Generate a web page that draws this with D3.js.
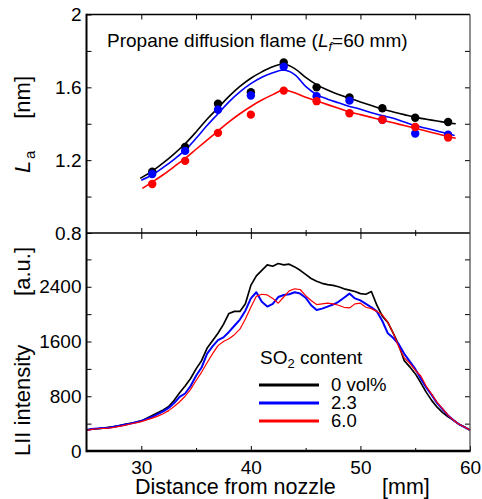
<!DOCTYPE html>
<html>
<head>
<meta charset="utf-8">
<script src="https://cdn.jsdelivr.net/npm/d3@7"></script>
<style>
  body { margin: 0; background: #fff; }
  svg { font-family: "Liberation Sans", Arial, sans-serif; }
</style>
</head>
<body>
<div id="chart"></div>
<script>
// ---- data ----
// top panel: measured La points
const ptX = [31, 34, 37, 40, 43, 46, 49, 52, 55, 58];
const la0 = [1.136, 1.273, 1.51, 1.573, 1.737, 1.60, 1.545, 1.485, 1.433, 1.41];
const la23 = [1.124, 1.251, 1.477, 1.555, 1.713, 1.551, 1.527, 1.422, 1.346, 1.34];
const la60 = [1.069, 1.196, 1.35, 1.45, 1.582, 1.524, 1.458, 1.422, 1.382, 1.324];

// top panel: fitted curves (x, La)
const fit0 = [[29.9,1.10],[31,1.14],[32,1.185],[33,1.235],[34,1.29],[35,1.355],[36,1.425],[37,1.487],[38,1.55],[39,1.605],[40,1.65],[41,1.685],[42,1.713],[43,1.728],[44,1.703],[45,1.655],[46,1.615],[47,1.585],[48,1.56],[49,1.54],[50,1.52],[51,1.50],[52,1.48],[53,1.465],[54,1.45],[55,1.435],[56,1.425],[57,1.415],[58,1.405],[58.7,1.40]];
const fit23 = [[30,1.09],[31,1.12],[32,1.16],[33,1.205],[34,1.255],[35,1.32],[36,1.39],[37,1.455],[38,1.52],[39,1.575],[40,1.62],[41,1.655],[42,1.68],[43,1.695],[44,1.67],[45,1.605],[46,1.56],[47,1.535],[48,1.515],[49,1.495],[50,1.48],[51,1.46],[52,1.445],[53,1.43],[54,1.41],[55,1.39],[56,1.375],[57,1.36],[58,1.345],[58.6,1.335]];
const fit60 = [[30.1,1.045],[31,1.08],[32,1.12],[33,1.165],[34,1.21],[35,1.26],[36,1.31],[37,1.36],[38,1.41],[39,1.455],[40,1.495],[41,1.53],[42,1.56],[43,1.585],[44,1.57],[45,1.545],[46,1.525],[47,1.505],[48,1.485],[49,1.465],[50,1.45],[51,1.435],[52,1.42],[53,1.405],[54,1.39],[55,1.375],[56,1.36],[57,1.345],[58,1.33],[58.7,1.32]];

// bottom panel: LII profiles, every 0.5 mm from 25 to 60
const liiX = d3.range(25, 60.01, 0.5);
const lii0 = [310,320,325,335,345,355,370,390,405,420,440,480,520,560,600,650,740,850,950,1060,1200,1320,1500,1610,1720,1850,2010,2040,2040,2150,2420,2560,2640,2720,2700,2740,2720,2730,2690,2640,2580,2520,2480,2450,2430,2420,2400,2370,2350,2330,2300,2290,2330,2130,1970,1880,1720,1550,1320,1230,1130,1000,860,740,640,560,500,450,390,350,305];
const lii23 = [305,320,330,335,340,355,370,385,400,420,440,470,500,540,580,630,700,790,840,950,1100,1220,1420,1530,1620,1660,1740,1830,1920,2050,2230,2320,2180,2110,2150,2250,2280,2290,2320,2300,2240,2130,2060,2080,2110,2140,2180,2240,2300,2230,2200,2150,2100,2040,1900,1720,1650,1560,1420,1310,1200,1060,930,820,700,610,520,450,390,350,305];
const lii60 = [300,315,325,330,335,345,360,375,395,410,430,455,480,510,545,590,650,720,800,900,1030,1150,1290,1420,1540,1600,1640,1700,1780,1930,2100,2260,2290,2280,2230,2160,2250,2340,2370,2360,2270,2200,2140,2150,2160,2150,2130,2100,2090,2150,2160,2100,2080,2040,1990,1880,1720,1520,1360,1280,1180,1100,950,830,710,620,520,450,390,350,305];

const laTicks = [0.8, 1.0, 1.2, 1.4, 1.6, 1.8, 2.0];
const laLabels = [0.8, 1.2, 1.6, 2.0];
const liiTicks = [0, 400, 800, 1200, 1600, 2000, 2400, 2800];
const liiLabels = [0, 800, 1600, 2400];
const xMajor = [30, 40, 50];
const xMinor = [35, 45, 55];
const xLabels = [30, 40, 50, 60];
const legendNames = ["0 vol%", "2.3", "6.0"];
const colors = ["#000000", "#0000ff", "#ff0000"];

// ---- layout ----
const W = 482, H = 499;
const svg = d3.select('#chart').append('svg')
    .attr('width', W).attr('height', H);

const x = d3.scaleLinear().domain([25, 60]).range([86.5, 470]);
const yLa = d3.scaleLinear().domain([0.8, 2]).range([233, 14.5]);
const yLii = d3.scaleLinear().domain([0, 3200]).range([451, 232]);

// tick helper: draws ticks (and optional labels) without the domain line
function ticks(axisFn, scale, values, size, tx, ty, fmt, pad) {
  const a = axisFn(scale).tickValues(values).tickSize(size).tickSizeOuter(0)
      .tickPadding(pad || 5).tickFormat(fmt || (() => ''));
  const g = svg.append('g').attr('transform', `translate(${tx},${ty})`).call(a);
  g.select('.domain').remove();
  g.selectAll('line').attr('stroke', '#000').attr('stroke-width', 1);
  g.selectAll('text').attr('font-size', 19).attr('fill', '#000')
      .attr('font-family', '"Liberation Sans", Arial, sans-serif');
  return g;
}

const laFmt = d => laLabels.some(v => Math.abs(v - d) < 1e-6) ? (d === 2 ? '2' : d.toFixed(1)) : '';
const liiFmt = d => liiLabels.includes(d) ? String(d) : '';

// y ticks
ticks(d3.axisLeft, yLa, laTicks, -5, x(25), 0, laFmt);
ticks(d3.axisRight, yLa, laTicks.slice(1, -1), -5, x(60), 0);
ticks(d3.axisLeft, yLii, liiTicks, -5, x(25), 0, liiFmt);
ticks(d3.axisRight, yLii, liiTicks.slice(1), -5, x(60), 0);

// x ticks: top border, middle divider (both sides), bottom
ticks(d3.axisBottom, x, xMajor.concat(xMinor), 5, 0, yLa(2));
ticks(d3.axisBottom, x, xMajor, -5, 0, yLa(0.8));
ticks(d3.axisBottom, x, xMajor, 6, 0, yLa(0.8));
ticks(d3.axisBottom, x, xMinor, -3, 0, yLa(0.8));
ticks(d3.axisBottom, x, xMinor, 3, 0, yLa(0.8));
ticks(d3.axisBottom, x, xMinor, -3, 0, yLii(0));
ticks(d3.axisBottom, x, xLabels, -5, 0, yLii(0), d => String(d), 10);

// frame
const frame = svg.append('g');
frame.append('line').attr('x1', x(25)).attr('x2', x(60)).attr('y1', yLa(2)).attr('y2', yLa(2))
    .attr('stroke', '#000').attr('stroke-width', 1.5);
frame.append('line').attr('x1', x(25)).attr('x2', x(60)).attr('y1', yLa(0.8)).attr('y2', yLa(0.8))
    .attr('stroke', '#000').attr('stroke-width', 1.5);
frame.append('line').attr('x1', x(60)).attr('x2', x(60)).attr('y1', yLa(2)).attr('y2', yLii(0))
    .attr('stroke', '#444').attr('stroke-width', 1.2);

// ---- top panel ----
const fitLine = d3.line().x(d => x(d[0])).y(d => yLa(d[1])).curve(d3.curveCatmullRom);
[fit0, fit23, fit60].forEach((f, i) => {
  svg.append('path').datum(f).attr('d', fitLine)
      .attr('fill', 'none').attr('stroke', colors[i]).attr('stroke-width', 1.6);
});
[la0, la23, la60].forEach((s, i) => {
  svg.append('g').selectAll('circle').data(s).join('circle')
      .attr('cx', (d, j) => x(ptX[j])).attr('cy', d => yLa(d))
      .attr('r', 4.2).attr('fill', colors[i]);
});

svg.append('text').attr('x', 107).attr('y', 47).attr('font-size', 19)
    .call(t => {
      t.append('tspan').text('Propane diffusion flame (');
      t.append('tspan').attr('font-style', 'italic').text('L');
      t.append('tspan').attr('font-style', 'italic').attr('font-size', 13).attr('dy', 4).text('f');
      t.append('tspan').attr('dy', -4).text('=60 mm)');
    });

// ---- bottom panel ----
const liiLine = d3.line().x((d, j) => x(liiX[j])).y(d => yLii(d));
[lii0, lii23, lii60].forEach((s, i) => {
  svg.append('path').datum(s).attr('d', liiLine)
      .attr('fill', 'none').attr('stroke', colors[i])
      .attr('stroke-width', [1.7, 2, 1.2][i]).attr('stroke-linejoin', 'round');
});

// left and bottom axis lines on top
frame.raise();
svg.append('line').attr('x1', x(25)).attr('x2', x(25)).attr('y1', yLa(2) - 0.75).attr('y2', yLii(0) + 1.25)
    .attr('stroke', '#000').attr('stroke-width', 2);
svg.append('line').attr('x1', x(25)).attr('x2', x(60) + 0.6).attr('y1', yLii(0)).attr('y2', yLii(0))
    .attr('stroke', '#000').attr('stroke-width', 2.5);

// legend
const leg = svg.append('g');
leg.append('text').attr('x', 260).attr('y', 363.5).attr('font-size', 19)
    .call(t => {
      t.append('tspan').text('SO');
      t.append('tspan').attr('font-size', 13).attr('dy', 4).text('2');
      t.append('tspan').attr('dy', -4).text(' content');
    });
legendNames.forEach((name, i) => {
  const ly = 385 + i * 18;
  leg.append('line').attr('x1', 259).attr('x2', 319).attr('y1', ly).attr('y2', ly)
      .attr('stroke', colors[i]).attr('stroke-width', 3);
  leg.append('text').attr('x', 331).attr('y', ly + 6).attr('font-size', 18.5).text(name);
});

// axis titles
const laT = svg.append('g').attr('transform', 'translate(30,0) rotate(-90)');
laT.append('text').attr('x', -173).attr('y', 0).attr('font-size', 22).attr('font-style', 'italic').text('L');
laT.append('text').attr('x', -159).attr('y', 5).attr('font-size', 15).text('a');
laT.append('text').attr('x', -76).attr('y', 0).attr('font-size', 22).attr('text-anchor', 'end').text('[nm]');

const liiT = svg.append('g').attr('transform', 'translate(29.5,0) rotate(-90)');
liiT.append('text').attr('x', -456).attr('y', 0).attr('font-size', 22).text('LII intensity');
liiT.append('text').attr('x', -247).attr('y', 0).attr('font-size', 22).attr('text-anchor', 'end').text('[a.u.]');

svg.append('text').attr('x', 135).attr('y', 494).attr('font-size', 21.5).text('Distance from nozzle');
svg.append('text').attr('x', 382).attr('y', 494).attr('font-size', 21.5).text('[mm]');
</script>
</body>
</html>
